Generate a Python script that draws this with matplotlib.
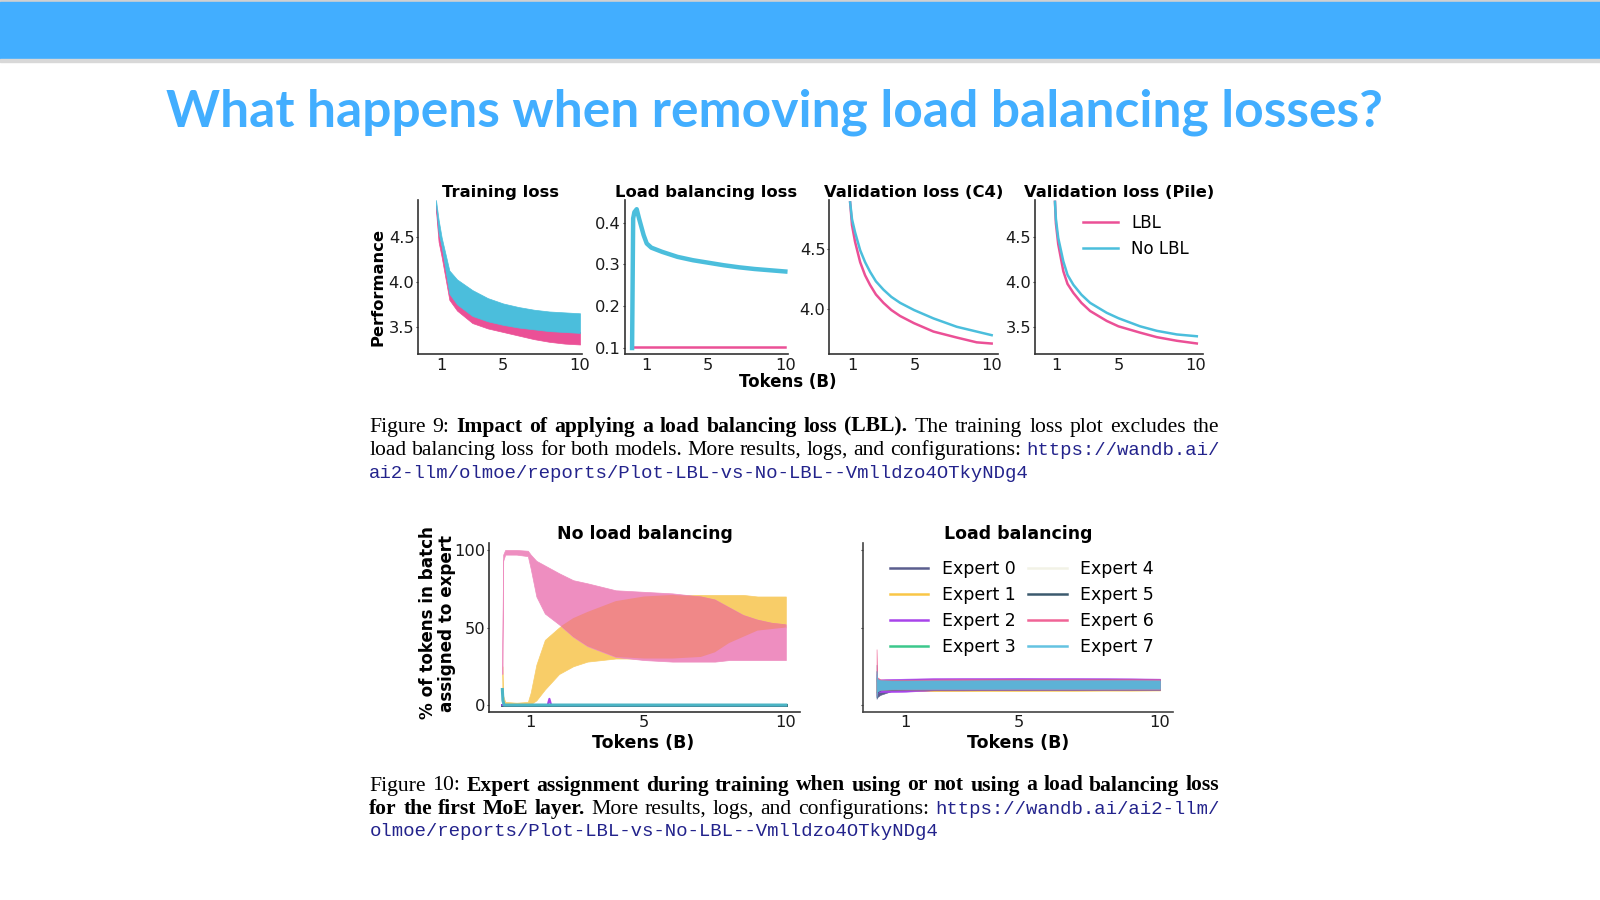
import matplotlib
matplotlib.use("Agg")
import matplotlib.pyplot as plt
import numpy as np
from matplotlib.patches import Rectangle
from matplotlib.lines import Line2D

# ---------------- data ----------------
slide_title = "What happens when removing load balancing losses?"
tick_x = [1, 5, 10]
tick_x_labels = ["1", "5", "10"]

# Training loss (noisy bands: lower / upper envelopes)
train_x = [0.63, 0.8, 1.0, 1.5, 2.0, 3.0, 4.0, 5.0, 6.0, 7.0, 8.0, 9.0, 10.0]
train_nolbl_hi = [4.92, 4.70, 4.50, 4.13, 4.03, 3.91, 3.82, 3.76, 3.72, 3.69, 3.67, 3.66, 3.65]
train_nolbl_lo = [4.86, 4.55, 4.40, 3.87, 3.75, 3.62, 3.56, 3.52, 3.49, 3.47, 3.45, 3.44, 3.43]
train_lbl_hi = [4.86, 4.55, 4.40, 3.88, 3.76, 3.63, 3.57, 3.53, 3.50, 3.48, 3.46, 3.45, 3.44]
train_lbl_lo = [4.80, 4.45, 4.28, 3.80, 3.68, 3.54, 3.48, 3.44, 3.40, 3.36, 3.33, 3.31, 3.30]
train_yticks = [3.5, 4.0, 4.5]
train_ylabels = ["3.5", "4.0", "4.5"]

# Load balancing loss
lb_nolbl_x = [0.05, 0.12, 0.2, 0.35, 0.5, 0.8, 1.0, 1.3, 2.0, 3.0, 4.0, 5.0, 6.0, 7.0, 8.0, 9.0, 10.0]
lb_nolbl_y = [0.10, 0.41, 0.425, 0.432, 0.41, 0.37, 0.35, 0.34, 0.330, 0.318, 0.310, 0.304, 0.298, 0.293, 0.289, 0.286, 0.283]
lb_lbl_x = [0.05, 10.0]
lb_lbl_y = [0.102, 0.102]
lb_yticks = [0.1, 0.2, 0.3, 0.4]
lb_ylabels = ["0.1", "0.2", "0.3", "0.4"]

# Validation loss (C4)
c4_x = [0.83, 0.95, 1.15, 1.48, 1.8, 2.12, 2.5, 2.99, 3.5, 4.07, 4.97, 6.23, 7.74, 9.03, 10.0]
c4_nolbl = [4.89, 4.75, 4.64, 4.49, 4.39, 4.31, 4.23, 4.16, 4.10, 4.05, 3.99, 3.92, 3.85, 3.81, 3.78]
c4_lbl = [4.89, 4.70, 4.56, 4.39, 4.28, 4.20, 4.12, 4.05, 3.99, 3.94, 3.88, 3.81, 3.76, 3.72, 3.71]
c4_yticks = [4.0, 4.5]
c4_ylabels = ["4.0", "4.5"]

# Validation loss (Pile)
pile_x = [0.89, 0.95, 1.1, 1.43, 1.7, 2.08, 2.6, 3.16, 4.23, 4.99, 6.39, 7.47, 8.76, 10.05]
pile_nolbl = [4.89, 4.70, 4.49, 4.23, 4.08, 3.97, 3.86, 3.77, 3.66, 3.60, 3.51, 3.46, 3.42, 3.40]
pile_lbl = [4.89, 4.65, 4.42, 4.12, 3.98, 3.88, 3.77, 3.68, 3.57, 3.51, 3.44, 3.39, 3.35, 3.32]
pile_yticks = [3.5, 4.0, 4.5]
pile_ylabels = ["3.5", "4.0", "4.5"]

# Expert assignment, no load balancing (% of tokens)
nolb_x = [0.0, 0.03, 0.1, 0.5, 0.9, 1.0, 1.2, 1.5, 2.0, 2.5, 3.0, 4.0, 5.0, 6.0, 7.0, 7.5, 8.0, 8.5, 9.0, 9.5, 10.0]
nolb_e6_hi = [40, 97, 100, 100, 99.5, 97, 93, 90, 85, 80.5, 78.5, 74, 73, 72, 70, 68, 63, 58, 55, 53, 52]
nolb_e6_lo = [20, 93, 97, 97, 96, 88, 70, 59, 52, 44, 38, 31, 29, 28, 28, 28, 29, 29, 29, 29, 29]
nolb_e1_hi = [25, 6, 2, 1.5, 2, 8, 26, 42, 50, 56, 60, 67, 70, 71, 71, 71, 71, 71, 70, 70, 70]
nolb_e1_lo = [10, 1, 0, 0, 0, 0.5, 3, 10, 20, 25, 28, 30, 30, 30, 31, 34, 40, 44, 48, 49, 50]
nolb_flat_x = [0.0, 10.0]
nolb_flat_y = [0.0, 0.0]
nolb_e2_x = [0.0, 1.6, 1.66, 1.72, 10.0]
nolb_e2_y = [0.0, 0.0, 4.0, 0.0, 0.0]
nolb_e7_x = [0.0, 0.02, 0.06, 10.0]
nolb_e7_y = [10.0, 3.0, 0.0, 0.0]
pct_yticks = [0, 50, 100]
pct_ylabels = ["0", "50", "100"]

# Expert assignment, load balancing (% of tokens) - bands per expert
lbx = [-0.03, -0.01, 0.1, 0.5, 1, 2, 3, 4, 5, 6, 7, 8, 9, 10]
lb_e0_lo = [4, 5, 6.5, 9, 9.8, 10, 10, 10, 10, 10, 10, 10, 10, 10]
lb_e0_hi = [26, 17, 16, 16, 16, 16, 16, 16, 16, 16, 16, 16, 16, 16]
lb_e1_lo = [8, 9, 9.5, 9.5, 9.0, 8.9, 9.0, 9.1, 9.1, 9.2, 9.2, 9.3, 9.3, 9.4]
lb_e1_hi = [15, 15, 15, 15.5, 16, 16.3, 16.4, 16.5, 16.6, 16.6, 16.8, 16.8, 16.9, 16.8]
lb_e2_lo = [6, 8, 8.3, 8.4, 8.6, 9.5, 9.5, 9.6, 9.6, 9.7, 9.7, 9.8, 9.8, 9.8]
lb_e2_hi = [20, 16, 16.5, 16.8, 17.0, 17.3, 17.4, 17.4, 17.5, 17.4, 17.4, 17.3, 17.2, 17.0]
lb_e3_lo = [8, 9.5, 10, 10, 10, 10, 10, 10, 10, 10, 10, 10, 10, 10]
lb_e3_hi = [18, 16, 16, 16.2, 16.3, 16.3, 16.3, 16.3, 16.3, 16.3, 16.3, 16.3, 16.3, 16.2]
lb_e4_lo = [9, 10, 10.2, 10.3, 10.3, 10.3, 10.3, 10.3, 10.3, 10.3, 10.3, 10.3, 10.3, 10.3]
lb_e4_hi = [15, 15.5, 15.6, 15.6, 15.6, 15.6, 15.6, 15.6, 15.6, 15.6, 15.6, 15.6, 15.6, 15.6]
lb_e5_lo = [5, 8, 9.5, 9.8, 10, 10, 10, 10, 10, 10, 10, 10, 10, 10]
lb_e5_hi = [22, 17, 16.3, 16.2, 16.2, 16.2, 16.3, 16.4, 16.4, 16.4, 16.4, 16.5, 16.4, 16.3]
lb_e6_lo = [6, 9, 9.8, 10, 10, 10, 10, 10, 10, 10, 10, 10, 10, 10]
lb_e6_hi = [36, 18, 16.5, 16.3, 16.3, 16.5, 16.6, 16.6, 16.6, 16.6, 16.6, 16.6, 16.6, 16.5]
lb_e7_lo = [5, 8.5, 9.8, 10.1, 10.2, 10.3, 10.3, 10.3, 10.4, 10.4, 10.4, 10.4, 10.5, 10.5]
lb_e7_hi = [22, 17, 16.0, 15.8, 15.8, 15.9, 15.9, 16.0, 16.0, 16.0, 16.0, 16.0, 16.0, 15.9]
expert_labels = ["Expert 0", "Expert 1", "Expert 2", "Expert 3",
                 "Expert 4", "Expert 5", "Expert 6", "Expert 7"]

# captions
fig9_lines = [
    [("Figure 9:", "r"), ("Impact of applying a load balancing loss (LBL).", "b"),
     ("The training loss plot excludes the", "r")],
    [("load balancing loss for both models. More results, logs, and configurations:", "r"),
     ("https://wandb.ai/", "m")],
    [("ai2-llm/olmoe/reports/Plot-LBL-vs-No-LBL--Vmlldzo4OTkyNDg4", "m")],
]
fig10_lines = [
    [("Figure 10:", "r"),
     ("Expert assignment during training when using or not using a load balancing loss", "b")],
    [("for the first MoE layer.", "b"), ("More results, logs, and configurations:", "r"),
     ("https://wandb.ai/ai2-llm/", "m")],
    [("olmoe/reports/Plot-LBL-vs-No-LBL--Vmlldzo4OTkyNDg4", "m")],
]

# ---------------- styles ----------------
PINK = "#EB5096"
CYAN = "#4BBEDC"
TITLE_BLUE = "#42AEFF"
URL_COLOR = "#23238C"
NOLB_PINK = "#EE8EC0"
NOLB_YELLOW = "#F8CD68"
NOLB_SALMON = "#F08888"
NOLB_CYAN = "#4BB5C5"
EXPERT_COLORS = ["#5B5E8E", "#F9C646", "#A844EA", "#3CC88C",
                 "#F2F2E6", "#3C5A6E", "#F06496", "#64C3E1"]
LB_BAND_BLUE = "#5DB2D6"

W, H = 1600, 900
plt.rcParams["font.family"] = ["DejaVu Sans"]
fig = plt.figure(figsize=(16, 9), dpi=100)
fig.patch.set_facecolor("white")
renderer = fig.canvas.get_renderer()


def fx(px):
    return px / W


def fy(py):
    return 1 - py / H


def add_ax(x0, x1, y0, y1):
    return fig.add_axes([fx(x0), fy(y1), (x1 - x0) / W, (y1 - y0) / H])


def fit(t, target, dim="w"):
    bb = t.get_window_extent(renderer)
    cur = bb.width if dim == "w" else bb.height
    t.set_fontsize(t.get_fontsize() * target / cur)
    return t.get_fontsize()


# ---------------- banner & title ----------------
fig.patches.append(Rectangle((0, fy(2)), 1, 2 / H, transform=fig.transFigure,
                             color="#D0D0D0", zorder=0))
fig.patches.append(Rectangle((0, fy(59.5)), 1, 57.5 / H, transform=fig.transFigure,
                             color=TITLE_BLUE, zorder=0))
fig.patches.append(Rectangle((0, fy(61.5)), 1, 2 / H, transform=fig.transFigure,
                             color="#D8D8D8", zorder=0))
tt = fig.text(fx(166.3), fy(126), slide_title, family="Lato", weight="bold",
              color=TITLE_BLUE, fontsize=38, ha="left", va="baseline")
fit(tt, 1216.4)


# ---------------- axes helpers ----------------
def style(ax, xlim, ylim, yticks, ylabels, fs, xpad=3, show_ylabels=True, spine_color="#333333"):
    ax.set_xlim(*xlim)
    ax.set_ylim(*ylim)
    for s in ["top", "right"]:
        ax.spines[s].set_visible(False)
    for s in ["left", "bottom"]:
        ax.spines[s].set_linewidth(1.2)
        ax.spines[s].set_color(spine_color)
    ax.set_xticks(tick_x)
    ax.set_xticklabels(tick_x_labels)
    ax.set_yticks(yticks)
    ax.set_yticklabels(ylabels if show_ylabels else [""] * len(yticks))
    ax.tick_params(axis="x", length=0, pad=xpad, labelsize=fs, labelcolor="#1a1a1a")
    ax.tick_params(axis="y", length=1.8, width=0.8, pad=1, labelsize=fs,
                   labelcolor="#1a1a1a", color="#333333")
    ax.set_facecolor("none")


TOP_FS = 11.7
BOT_FS = 11.7

# Training loss
ax1 = add_ax(418.3, 581.7, 200, 354.3)
ax1.fill_between(train_x, train_lbl_lo, train_lbl_hi, color=PINK, lw=0.5)
ax1.fill_between(train_x, train_nolbl_lo, train_nolbl_hi, color=CYAN, lw=0.5)
style(ax1, (-0.52, 10.11), (3.19, 4.92), train_yticks, train_ylabels, TOP_FS)

# Load balancing loss
ax2 = add_ax(625, 787.8, 200, 354.3)
ax2.plot(lb_lbl_x, lb_lbl_y, color=PINK, lw=1.8)
ax2.plot(lb_nolbl_x, lb_nolbl_y, color=CYAN, lw=3.2, solid_joinstyle="round")
style(ax2, (-0.41, 10.16), (0.085, 0.454), lb_yticks, lb_ylabels, TOP_FS)

# Validation C4
ax3 = add_ax(829.3, 998.3, 200, 354.3)
ax3.plot(c4_x, c4_lbl, color=PINK, lw=1.8)
ax3.plot(c4_x, c4_nolbl, color=CYAN, lw=1.8)
style(ax3, (-0.52, 10.43), (3.62, 4.91), c4_yticks, c4_ylabels, TOP_FS)

# Validation Pile
ax4 = add_ax(1035, 1203.3, 200, 354.3)
ax4.plot(pile_x, pile_lbl, color=PINK, lw=1.8, label="LBL")
ax4.plot(pile_x, pile_nolbl, color=CYAN, lw=1.8, label="No LBL")
style(ax4, (-0.40, 10.47), (3.20, 4.91), pile_yticks, pile_ylabels, TOP_FS)

top_titles = [(ax1, "Training loss"), (ax2, "Load balancing loss"),
              (ax3, "Validation loss (C4)"), (ax4, "Validation loss (Pile)")]
ref_t = fig.text(0, 0, "Validation loss (C4)", weight="bold", fontsize=12)
top_title_fs = fit(ref_t, 178)
ref_t.remove()
for ax, s in top_titles:
    ax.set_title(s, fontsize=top_title_fs, fontweight="bold", pad=2.5)

leg1 = ax4.legend(loc="upper left", bbox_to_anchor=(fx(1083), fy(214)),
                  bbox_transform=fig.transFigure, frameon=False, borderpad=0,
                  borderaxespad=0, handlelength=2.1, handletextpad=0.8,
                  labelspacing=0.45, fontsize=12)

perf = fig.text(fx(378.3), fy(287.3), "Performance", weight="bold", fontsize=12,
                ha="center", va="center")
fit(perf, 118)
perf.set_rotation(90)

tok_top = fig.text(fx(788), fy(381.6), "Tokens (B)", weight="bold", fontsize=12,
                   ha="center", va="center")
fit(tok_top, 97)

# ---------------- bottom row ----------------
ax5 = add_ax(489.3, 800, 543.3, 711.7)
ax5.fill_between(nolb_x, nolb_e1_lo, nolb_e1_hi, color=NOLB_YELLOW, lw=0.5)
ax5.fill_between(nolb_x, nolb_e6_lo, nolb_e6_hi, color=NOLB_PINK, lw=0.5)
ov_lo = np.maximum(nolb_e1_lo, nolb_e6_lo)
ov_hi = np.minimum(nolb_e1_hi, nolb_e6_hi)
ax5.fill_between(nolb_x, ov_lo, ov_hi, where=ov_hi > ov_lo, interpolate=True,
                 color=NOLB_SALMON, lw=0)
for c in [EXPERT_COLORS[0], EXPERT_COLORS[3], EXPERT_COLORS[5]]:
    ax5.plot(nolb_flat_x, nolb_flat_y, color=c, lw=2)
ax5.plot(nolb_e2_x, nolb_e2_y, color=EXPERT_COLORS[2], lw=1.5)
ax5.plot(nolb_e7_x, nolb_e7_y, color=NOLB_CYAN, lw=2.2)
style(ax5, (-0.46, 10.5), (-4.3, 104.3), pct_yticks, pct_ylabels, BOT_FS, xpad=2.6)

ax6 = add_ax(862.7, 1173, 543.3, 711.7)
lb_bands = [(lb_e0_lo, lb_e0_hi), (lb_e1_lo, lb_e1_hi), (lb_e2_lo, lb_e2_hi),
            (lb_e3_lo, lb_e3_hi), (lb_e4_lo, lb_e4_hi), (lb_e5_lo, lb_e5_hi),
            (lb_e6_lo, lb_e6_hi), (lb_e7_lo, lb_e7_hi)]
for i, (lo, hi) in enumerate(lb_bands):
    col = LB_BAND_BLUE if i == 7 else EXPERT_COLORS[i]
    ax6.fill_between(lbx, lo, hi, color=col, lw=0.4)
style(ax6, (-0.52, 10.46), (-4.3, 104.3), pct_yticks, pct_ylabels, BOT_FS, xpad=2.6,
      show_ylabels=False, spine_color="#444444")
handles = [Line2D([0], [0], color=c, lw=1.8) for c in EXPERT_COLORS]
leg2 = ax6.legend(handles, expert_labels, ncol=2, loc="upper left",
                  bbox_to_anchor=(fx(890), fy(560)), bbox_transform=fig.transFigure,
                  frameon=False, borderpad=0, borderaxespad=0, handlelength=2.2,
                  handletextpad=0.77, labelspacing=0.46, columnspacing=0.75, fontsize=12.5)

ref_b = fig.text(0, 0, "No load balancing", weight="bold", fontsize=12)
bot_title_fs = fit(ref_b, 175)
ref_b.remove()
ax5.set_title("No load balancing", fontsize=bot_title_fs, fontweight="bold", pad=3)
ax6.set_title("Load balancing", fontsize=bot_title_fs, fontweight="bold", pad=3)

for cx in [643.3, 1018]:
    tb = fig.text(fx(cx), fy(742.5), "Tokens (B)", weight="bold", fontsize=12,
                  ha="center", va="center")
    fit(tb, 101.7)

yl1 = fig.text(fx(428), fy(623), "% of tokens in batch", weight="bold", fontsize=12,
               ha="center", va="center")
yl_fs = fit(yl1, 193)
yl1.set_rotation(90)
fig.text(fx(446.7), fy(623), "assigned to expert", weight="bold", fontsize=yl_fs,
         ha="center", va="center", rotation=90)

# ---------------- captions ----------------
SERIF = "Liberation Serif"
MONO = "Liberation Mono"
CAP_L, CAP_R = 369.3, 1219.5
S0 = 13.0

tmp = fig.text(0, 0, "ai2-llm/olmoe/reports/Plot-LBL-vs-No-LBL--Vmlldzo4OTkyNDg4",
               family=MONO, fontsize=13)
mono_fs = fit(tmp, 657.5)
tmp.remove()


def props(st, s):
    if st == "m":
        return dict(family=MONO, fontsize=mono_fs, color=URL_COLOR)
    if st == "b":
        return dict(family=SERIF, fontsize=s, weight="bold", color="black")
    return dict(family=SERIF, fontsize=s, color="black")


def measure(s, st):
    t = fig.text(0, 0, s, **props(st, S0))
    w = t.get_window_extent(renderer).width
    t.remove()
    return w


def split_words(segments):
    words = []
    for text, st in segments:
        for w in text.split():
            words.append((w, st))
    return words


# choose a common serif size so the tightest justified line gets normal spacing
space_w0 = measure("a a", "r") - measure("aa", "r")
sizes = []
for line in [fig9_lines[0], fig9_lines[1], fig10_lines[0], fig10_lines[1]]:
    words = split_words(line)
    serif_w = sum(measure(w, st) for w, st in words if st != "m")
    mono_w = sum(measure(w, st) for w, st in words if st == "m")
    nsp = len(words) - 1
    sizes.append(S0 * (CAP_R - CAP_L - mono_w) / (serif_w + nsp * space_w0))
serif_fs = min(sizes)


def draw_line(segments, y, justify=True):
    words = split_words(segments)
    arts = [fig.text(0, fy(y), w, ha="left", va="baseline", **props(st, serif_fs))
            for w, st in words]
    widths = [a.get_window_extent(renderer).width for a in arts]
    if justify and len(arts) > 1:
        gap = (CAP_R - CAP_L - sum(widths)) / (len(arts) - 1)
    else:
        gap = space_w0 * serif_fs / S0
    x = CAP_L
    for a, w in zip(arts, widths):
        a.set_x(fx(x))
        x += w + gap


for i, (line, yb) in enumerate(zip(fig9_lines, [431.7, 455.0, 478.0])):
    draw_line(line, yb, justify=(i < 2))
for i, (line, yb) in enumerate(zip(fig10_lines, [790.5, 813.8, 836.5])):
    draw_line(line, yb, justify=(i < 2))

fig.savefig("out.png", dpi=100, facecolor="white")
